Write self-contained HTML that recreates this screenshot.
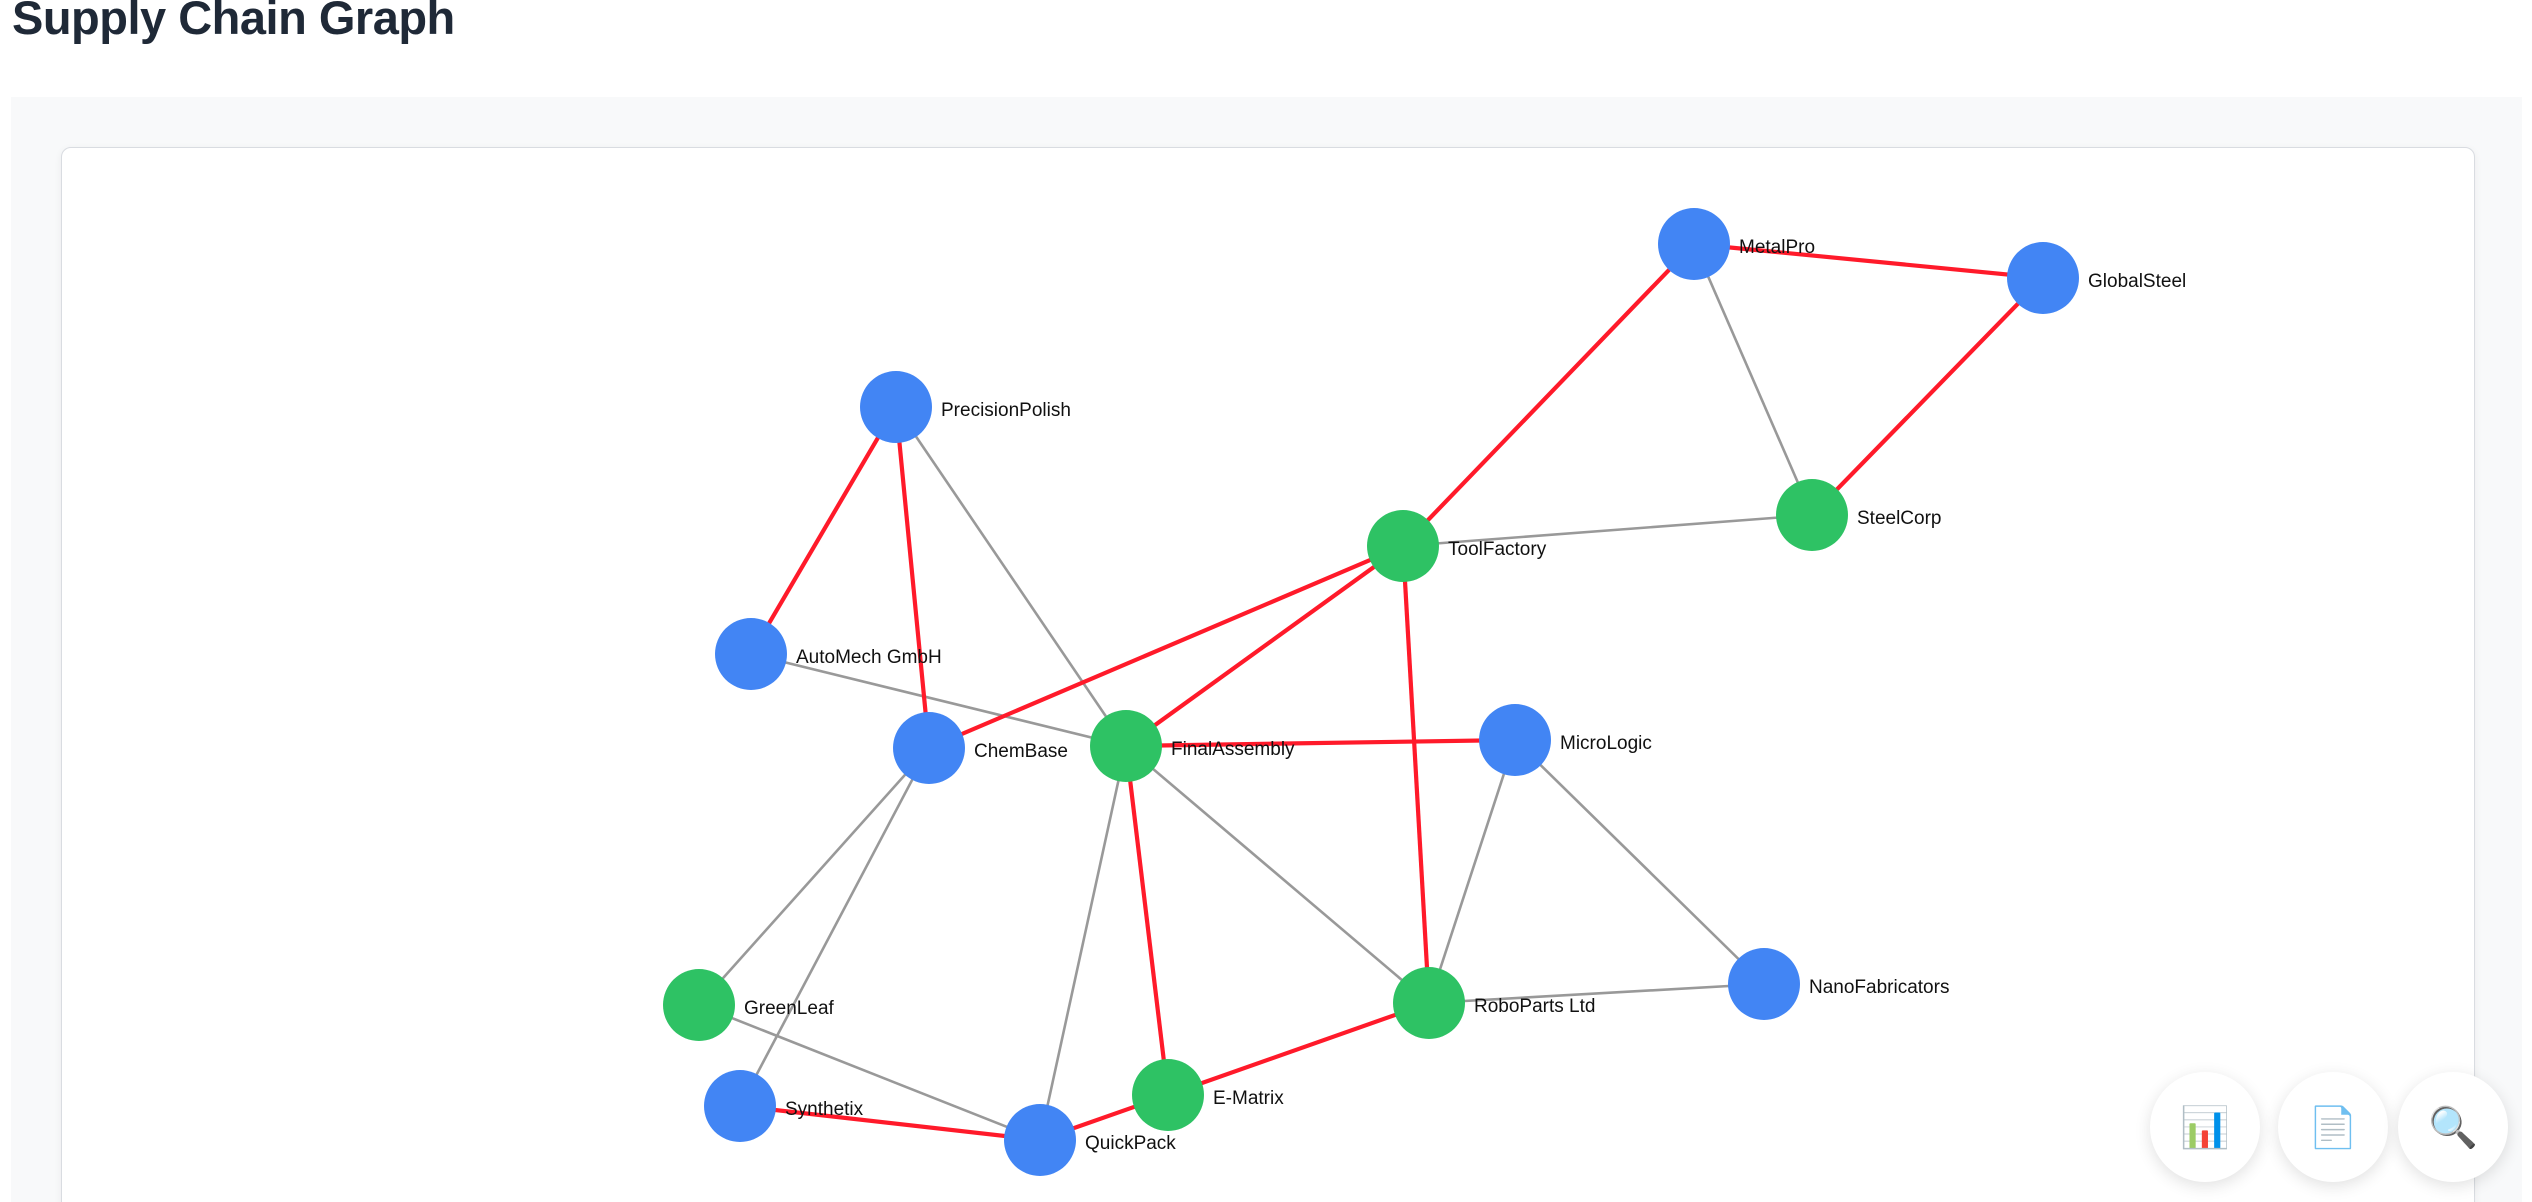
<!DOCTYPE html>
<html style="overflow:hidden;height:1202px"><head><style>
body{margin:0;width:2532px;height:1202px;overflow:hidden;background:#fff;font-family:"Liberation Sans",sans-serif;position:relative}
h1{position:absolute;left:12px;top:-10px;margin:0;font-size:47px;font-weight:bold;color:#1f2937;letter-spacing:-0.5px}
.panel{position:absolute;left:11px;top:97px;width:2511px;height:1105px;background:#f8f9fa}
.card{position:absolute;left:61px;top:147px;width:2412px;height:1080px;background:#fff;border:1px solid #d9dce1;border-radius:10px;box-shadow:0 2px 8px rgba(0,0,0,.06)}
.btn{position:absolute;width:110px;height:110px;border-radius:50%;background:#fff;box-shadow:0 4px 16px rgba(0,0,0,.12);display:flex;align-items:center;justify-content:center;font-size:40px}
.clip{position:absolute;left:0;top:0;width:2532px;height:1202px;overflow:hidden}
svg{position:absolute;left:0;top:0}
</style></head><body>
<div class="clip">
<h1>Supply Chain Graph</h1>
<div class="panel"></div>
<div class="card"></div>
<svg width="2532" height="1202">
<g stroke="#999" stroke-width="2.6">
<line x1="1694" y1="244" x2="1812" y2="515"/>
<line x1="1403" y1="546" x2="1812" y2="515"/>
<line x1="896" y1="407" x2="1126" y2="746"/>
<line x1="751" y1="654" x2="1126" y2="746"/>
<line x1="929" y1="748" x2="699" y2="1005"/>
<line x1="929" y1="748" x2="740" y2="1106"/>
<line x1="1126" y1="746" x2="1040" y2="1140"/>
<line x1="1126" y1="746" x2="1429" y2="1003"/>
<line x1="1515" y1="740" x2="1429" y2="1003"/>
<line x1="1515" y1="740" x2="1764" y2="984"/>
<line x1="1429" y1="1003" x2="1764" y2="984"/>
<line x1="699" y1="1005" x2="1040" y2="1140"/>
</g>
<g stroke="#ff1a2a" stroke-width="4.2">
<line x1="1694" y1="244" x2="2043" y2="278"/>
<line x1="2043" y1="278" x2="1812" y2="515"/>
<line x1="1694" y1="244" x2="1403" y2="546"/>
<line x1="896" y1="407" x2="751" y2="654"/>
<line x1="896" y1="407" x2="929" y2="748"/>
<line x1="1403" y1="546" x2="929" y2="748"/>
<line x1="1403" y1="546" x2="1126" y2="746"/>
<line x1="1403" y1="546" x2="1429" y2="1003"/>
<line x1="1126" y1="746" x2="1515" y2="740"/>
<line x1="1126" y1="746" x2="1168" y2="1095"/>
<line x1="1168" y1="1095" x2="1429" y2="1003"/>
<line x1="1168" y1="1095" x2="1040" y2="1140"/>
<line x1="740" y1="1106" x2="1040" y2="1140"/>
</g>
<g font-family="Liberation Sans,sans-serif" font-size="19" fill="#111">
<circle cx="1694" cy="244" r="36" fill="#4285f4"/><text x="1739" y="253">MetalPro</text>
<circle cx="2043" cy="278" r="36" fill="#4285f4"/><text x="2088" y="287">GlobalSteel</text>
<circle cx="896" cy="407" r="36" fill="#4285f4"/><text x="941" y="416">PrecisionPolish</text>
<circle cx="1812" cy="515" r="36" fill="#2ec264"/><text x="1857" y="524">SteelCorp</text>
<circle cx="1403" cy="546" r="36" fill="#2ec264"/><text x="1448" y="555">ToolFactory</text>
<circle cx="751" cy="654" r="36" fill="#4285f4"/><text x="796" y="663">AutoMech GmbH</text>
<circle cx="929" cy="748" r="36" fill="#4285f4"/><text x="974" y="757">ChemBase</text>
<circle cx="1126" cy="746" r="36" fill="#2ec264"/><text x="1171" y="755">FinalAssembly</text>
<circle cx="1515" cy="740" r="36" fill="#4285f4"/><text x="1560" y="749">MicroLogic</text>
<circle cx="699" cy="1005" r="36" fill="#2ec264"/><text x="744" y="1014">GreenLeaf</text>
<circle cx="1764" cy="984" r="36" fill="#4285f4"/><text x="1809" y="993">NanoFabricators</text>
<circle cx="1429" cy="1003" r="36" fill="#2ec264"/><text x="1474" y="1012">RoboParts Ltd</text>
<circle cx="740" cy="1106" r="36" fill="#4285f4"/><text x="785" y="1115">Synthetix</text>
<circle cx="1168" cy="1095" r="36" fill="#2ec264"/><text x="1213" y="1104">E-Matrix</text>
<circle cx="1040" cy="1140" r="36" fill="#4285f4"/><text x="1085" y="1149">QuickPack</text>
</g>
</svg>
<div class="btn" style="left:2150px;top:1072px">📊</div>
<div class="btn" style="left:2278px;top:1072px">📄</div>
<div class="btn" style="left:2398px;top:1072px">🔍</div>
</div>
</body></html>
